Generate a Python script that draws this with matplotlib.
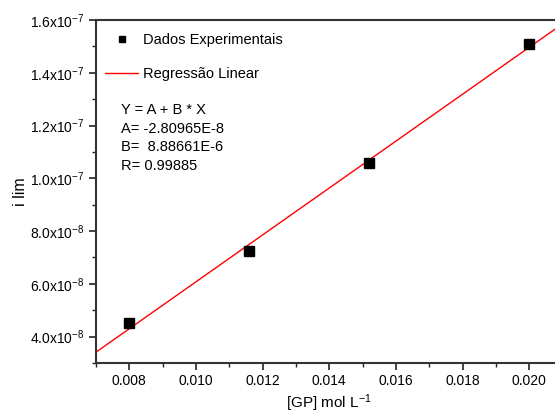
import numpy as np
import matplotlib
matplotlib.use("Agg")
import matplotlib.pyplot as plt
from matplotlib.ticker import FixedLocator, MultipleLocator

plt.rcParams['font.family'] = ['Liberation Sans', 'DejaVu Sans']
plt.rcParams['mathtext.fontset'] = 'custom'
plt.rcParams['mathtext.rm'] = 'Liberation Sans'
plt.rcParams['mathtext.it'] = 'Liberation Sans:italic'

conc = [0.008, 0.0116, 0.0152, 0.020]
i_lim = [4.53e-8, 7.24e-8, 1.057e-7, 1.509e-7]

# linear fit reported on the chart
A = -2.80965e-8
B = 8.88661e-6
R = 0.99885
fit_x = [0.007, 0.021]

y_ticks = [4.0e-8, 6.0e-8, 8.0e-8, 1.0e-7, 1.2e-7, 1.4e-7, 1.6e-7]
y_labels = [r'4.0x10$^{-8}$', r'6.0x10$^{-8}$', r'8.0x10$^{-8}$',
            r'1.0x10$^{-7}$', r'1.2x10$^{-7}$', r'1.4x10$^{-7}$',
            r'1.6x10$^{-7}$']
x_ticks = [0.008, 0.010, 0.012, 0.014, 0.016, 0.018, 0.020]
x_labels = ['0.008', '0.010', '0.012', '0.014', '0.016', '0.018', '0.020']

W, H = 555, 418
fig = plt.figure(figsize=(W / 100, H / 100), dpi=100)
left, right, top, bottom = 96, 562.5, 20, 363
ax = fig.add_axes([left / W, 1 - bottom / H, (right - left) / W, (bottom - top) / H])

fit_y = [A + B * x for x in fit_x]
ax.plot(fit_x, fit_y, color='red', lw=1.0, label='Regressão Linear', zorder=2)
ax.plot(conc, i_lim, ls='none', marker='s', ms=6.5, color='black',
        markeredgecolor='black', label='Dados Experimentais', zorder=3)

ax.set_xlim(0.007, 0.021)
ax.set_ylim(3.0e-8, 1.6e-7)

ax.xaxis.set_major_locator(FixedLocator(x_ticks))
ax.set_xticklabels(x_labels)
ax.xaxis.set_minor_locator(MultipleLocator(0.001))
ax.yaxis.set_major_locator(FixedLocator(y_ticks))
ax.set_yticklabels(y_labels)
ax.yaxis.set_minor_locator(MultipleLocator(1.0e-8))

ax.tick_params(which='major', direction='out', length=5, width=1.2,
               labelsize=10, color='#222222', pad=3)
ax.tick_params(which='minor', direction='out', length=3, width=1.0,
               color='#222222')
ax.tick_params(top=False, right=False, which='both')

for side in ['left', 'bottom', 'top']:
    ax.spines[side].set_linewidth(1.5)
    ax.spines[side].set_color('#333333')
ax.spines['right'].set_visible(False)

ax.set_xlabel(r'[GP] mol L$^{-1}$', fontsize=11, labelpad=3)
ax.set_ylabel('i lim', fontsize=11.5, labelpad=2)

handles, labels = ax.get_legend_handles_labels()
leg = ax.legend(handles[::-1], labels[::-1], loc='upper left',
                bbox_to_anchor=(0.0, 1.0 - 3.5 / (bottom - top)), frameon=False,
                fontsize=10.5, handlelength=2.2, handletextpad=0.35,
                labelspacing=1.38, borderaxespad=0.25, borderpad=0.4,
                markerscale=0.75)

txt = "Y = A + B * X\nA= -2.80965E-8\nB=  8.88661E-6\nR= {:.5f}".format(R)
ax.text((121 - left) / (right - left), 1 - (103 - top) / (bottom - top), txt,
        transform=ax.transAxes, fontsize=10.5, va='top', ha='left',
        linespacing=1.42)

fig.savefig('out.png', dpi=100)
